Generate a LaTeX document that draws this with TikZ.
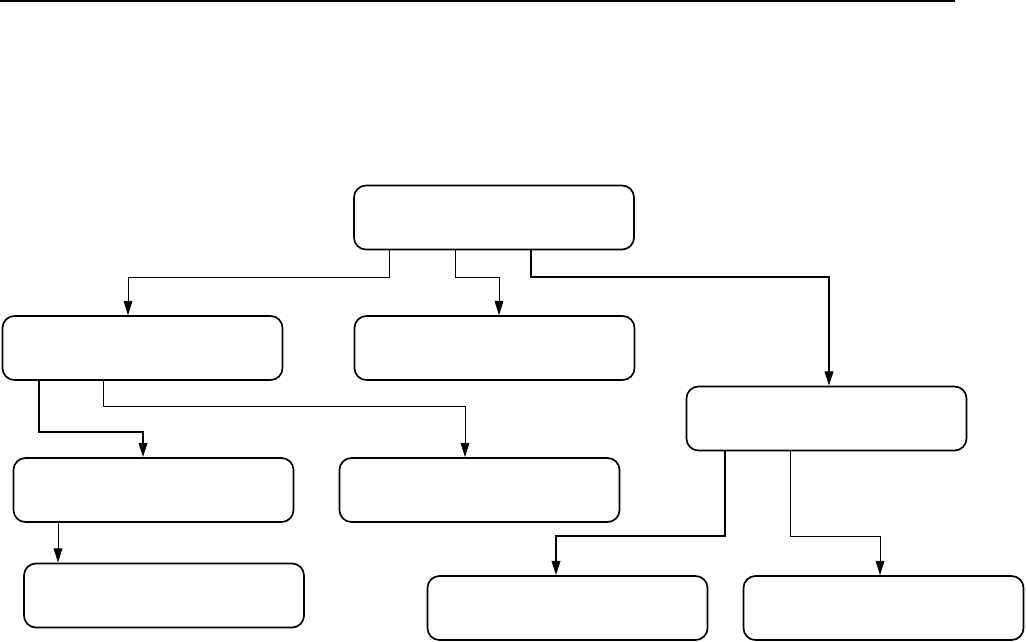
\documentclass[tikz,border=0pt]{standalone}
\usepackage{tikz}
\usetikzlibrary{arrows.meta,positioning,calc}
\definecolor{ink}{HTML}{000000}

\begin{document}
\begin{tikzpicture}[x=0.025cm,y=-0.025cm,>={Triangle[length=3.6mm,width=2.2mm]},
  box/.style={draw=ink,line width=1.2pt,rounded corners=0.3cm,minimum width=7cm,minimum height=1.6cm,inner sep=0pt},
  link/.style={draw=ink,line width=0.7pt},
  bold link/.style={draw=ink,line width=1.2pt}]
\useasboundingbox (0,0) rectangle (1026,641);
% rule at the top
\draw[line width=1.4pt,ink] (0,1) -- (955,1);
% top level
\node[box] (root) at (494,217.5) {};
% second level
\node[box] (left) at (142.5,348) {};
\node[box] (mid) at (494.5,348) {};
\node[box] (right) at (826.5,418.5) {};
% third level
\node[box] (leftA) at (153.5,490) {};
\node[box] (leftB) at (479.5,490) {};
\node[box] (leftC) at (164,595.5) {};
\node[box] (rightA) at (567.5,608) {};
\node[box] (rightB) at (883.5,608) {};
% arrows from the top box
\draw[link,->] (root.south -| 389,0) |- (128,277) -- (left.north -| 128,0);
\draw[link,->] (root.south -| 455,0) |- (499,277) -- (mid.north -| 499,0);
\draw[bold link,->] (root.south -| 531,0) |- (829,277) -- (right.north -| 829,0);
% arrows from the left box
\draw[bold link,->] (left.south -| 39,0) |- (143,432) -- (leftA.north -| 143,0);
\draw[link,->] (left.south -| 103,0) |- (465,406) -- (leftB.north -| 465,0);
\draw[link,->] (leftA.south -| 58,0) -- (leftC.north -| 58,0);
% arrows from the right box
\draw[bold link,->] (right.south -| 725,0) |- (556,536) -- (rightA.north -| 556,0);
\draw[link,->] (right.south -| 790,0) |- (880,536) -- (rightB.north -| 880,0);
\end{tikzpicture}
\end{document}
